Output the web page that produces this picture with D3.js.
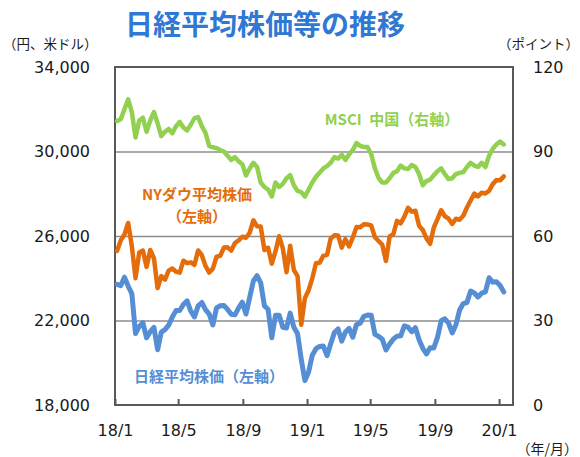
<!DOCTYPE html>
<html>
<head>
<meta charset="utf-8">
<script src="https://cdn.jsdelivr.net/npm/d3@7"></script>
<style>
  body { margin: 0; background: #fff; }
  text { fill: #1a1a1a; }
</style>
</head>
<body>
<svg width="580" height="457"></svg>
<script>
// weekly values (Fridays), Jan 2018 - Jan 2020
var nikkei = [
  23714, 23653, 24050, 23630, 23274, 21383, 21720, 21893, 21182, 21469,
  21676, 20617, 21454, 21568, 21778, 22162, 22468, 22472, 22758, 22930,
  22450, 22171, 22694, 22851, 22516, 22305, 21788, 22597, 22698, 22712,
  22525, 22298, 22270, 22601, 22865, 22307, 23094, 23870, 24120, 23784,
  22694, 22532, 21184, 22243, 22250, 21680, 21646, 22351, 21679, 21374,
  20166, 19155, 19561, 20360, 20666, 20774, 20788, 20333, 20900, 21426,
  21603, 21025, 21451, 21627, 21206, 21808, 21871, 22200, 22259, 22250,
  21345, 21250, 21117, 20601, 20885, 21117, 21259, 21276, 21746, 21686,
  21467, 21658, 21087, 20685, 20418, 20710, 20704, 21200, 21988, 22079,
  21879, 21410, 21799, 22492, 22800, 22851, 23392, 23303, 23113, 23293,
  23354, 24023, 23816, 23837, 23657, 23350
];
var dow = [
  25296, 25803, 26072, 26617, 25521, 24000, 25219, 25310, 24538, 25336,
  24947, 23533, 24103, 23933, 24360, 24463, 24311, 24263, 24831, 24715,
  24753, 24635, 25317, 25090, 24581, 24271, 24456, 25019, 25058, 25451,
  25463, 25313, 25669, 25790, 25965, 25917, 26154, 26744, 26458, 26447,
  25340, 25444, 24688, 25271, 25989, 25413, 24286, 25538, 24389, 24101,
  21800, 23062, 23433, 23996, 24706, 24737, 25064, 25106, 25883, 26031,
  26026, 25450, 25849, 25502, 25929, 26425, 26412, 26559, 26543, 26505,
  25942, 25764, 25586, 24815, 25984, 26090, 26719, 26600, 26922, 27332,
  27154, 27192, 26485, 26287, 25886, 25629, 26403, 26797, 27220, 26935,
  26820, 26573, 26817, 26770, 26958, 27347, 27681, 28005, 27876, 28051,
  28015, 28135, 28455, 28645, 28634, 28823
];
var msci = [
  100.8, 101.5, 105, 108.5, 104, 95, 101, 102, 97, 101,
  104, 100, 95.5, 97, 98, 96.5, 99, 100.5, 98.5, 97.5,
  99.5, 101.8, 102.2, 99, 96.6, 92, 91.5, 91.2, 90.5, 90,
  88.5, 87, 88, 86.5, 85.5, 81.5, 84, 86, 84.5, 79,
  77.4, 76.5, 74, 79, 77.4, 78.5, 80.5, 81.6, 78, 76,
  75.6, 74, 76.5, 79, 81, 82.5, 84, 84.8, 86, 88,
  87.5, 88.8, 87, 89, 90.5, 93, 92, 91.6, 91.6, 89,
  84, 80.6, 79, 79, 80.5, 82.4, 83, 85, 84, 83.8,
  85.2, 84.5, 82, 78, 79.5, 80, 81.6, 83, 84, 82,
  80.2, 80.5, 82, 82.4, 82.7, 84.5, 86, 85, 84.5, 86,
  84.5, 88.5, 91, 92.5, 93.5, 92.5
];
var weeks = d3.timeFriday.range(new Date(2018, 0, 5), new Date(2020, 0, 11));

var leftTicks = [18000, 22000, 26000, 30000, 34000];
var rightTicks = [0, 30, 60, 90, 120];
var monthTicks = ["2018-01", "2018-05", "2018-09", "2019-01", "2019-05", "2019-09", "2020-01"];
var monthLabels = ["18/1", "18/5", "18/9", "19/1", "19/5", "19/9", "20/1"];

var svg = d3.select("svg"),
    margin = {top: 67, right: 67, bottom: 52, left: 115},
    width = +svg.attr("width") - margin.left - margin.right,
    height = +svg.attr("height") - margin.top - margin.bottom,
    g = svg.append("g").attr("transform", "translate(" + margin.left + "," + margin.top + ")");

var jp = "'Noto Sans CJK JP', sans-serif",
    num = "'DejaVu Sans', Verdana, sans-serif";

var x = d3.scaleTime()
    .domain([new Date(2018, 0, 1), new Date(2020, 0, 27, 12)])
    .range([0, width]);
var yL = d3.scaleLinear().domain([18000, 34000]).range([height, 0]);
var yR = d3.scaleLinear().domain([0, 120]).range([height, 0]);

var parseMonth = d3.timeParse("%Y-%m");
var tickDates = monthTicks.map(parseMonth);

// title + unit labels
svg.append("text")
    .attr("x", 265).attr("y", 25).attr("dy", "0.36em")
    .attr("text-anchor", "middle")
    .style("font-family", jp).style("font-weight", "bold").style("font-size", "28px")
    .style("fill", "#2f78d4")
    .text("日経平均株価等の推移");

svg.append("text")
    .attr("x", 3).attr("y", 44).attr("dy", "0.36em")
    .style("font-family", jp).style("font-size", "13.5px")
    .text("（円、米ドル）");

svg.append("text")
    .attr("x", 579).attr("y", 44).attr("dy", "0.36em")
    .attr("text-anchor", "end")
    .style("font-family", jp).style("font-size", "13.5px")
    .text("（ポイント）");

svg.append("text")
    .attr("x", 578).attr("y", 449).attr("dy", "0.36em")
    .attr("text-anchor", "end")
    .style("font-family", jp).style("font-size", "14px")
    .text("（年/月）");

// gridlines
g.append("g")
    .attr("class", "grid")
    .call(d3.axisLeft(yL).tickValues([22000, 26000, 30000]).tickSize(-width).tickFormat(""))
  .call(function(s) {
    s.select(".domain").remove();
    s.selectAll("line").attr("stroke", "#8c8c8c").attr("stroke-width", 1.5);
  });

// frame
g.append("rect")
    .attr("width", width).attr("height", height)
    .attr("fill", "none")
    .attr("stroke", "#595959").attr("stroke-width", 2);

// axes
g.append("g")
    .call(d3.axisLeft(yL).tickValues(leftTicks).tickSize(0).tickPadding(25).tickFormat(d3.format(",")))
  .call(function(s) {
    s.select(".domain").remove();
    s.selectAll("text").style("font-family", num).style("font-size", "16px").attr("fill", "#1a1a1a");
  });

g.append("g")
    .attr("transform", "translate(" + width + ",0)")
    .call(d3.axisRight(yR).tickValues(rightTicks).tickSize(0).tickPadding(20))
  .call(function(s) {
    s.select(".domain").remove();
    s.selectAll("text").style("font-family", num).style("font-size", "16px").attr("fill", "#1a1a1a");
  });

g.append("g")
    .attr("transform", "translate(0," + height + ")")
    .call(d3.axisBottom(x).tickValues(tickDates).tickSize(-6).tickPadding(20)
      .tickFormat(function(d, i) { return monthLabels[i]; }))
  .call(function(s) {
    s.select(".domain").remove();
    s.selectAll("line").attr("stroke", "#595959").attr("stroke-width", 2);
    s.selectAll("text").style("font-family", num).style("font-size", "16px").attr("fill", "#1a1a1a");
  });

// series
var series = [
  {name: "msci", values: msci, scale: yR, color: "#92d050", width: 4.5},
  {name: "dow", values: dow, scale: yL, color: "#e46c0a", width: 4.5},
  {name: "nikkei", values: nikkei, scale: yL, color: "#558ed5", width: 5}
];

series.forEach(function(s) {
  var line = d3.line()
      .x(function(d, i) { return x(weeks[i]); })
      .y(function(d) { return s.scale(d); })
      .curve(d3.curveLinear);
  g.append("path")
      .datum(s.values)
      .attr("fill", "none")
      .attr("stroke", s.color)
      .attr("stroke-width", s.width)
      .attr("stroke-linejoin", "round")
      .attr("stroke-linecap", "round")
      .attr("d", line);
});

// series labels
function label(txt, cx, cy, color) {
  svg.append("text")
      .attr("x", cx).attr("y", cy).attr("dy", "0.36em")
      .attr("text-anchor", "middle")
      .style("font-family", jp).style("font-weight", "bold").style("font-size", "15px")
      .style("fill", color)
      .text(txt);
}
label("MSCI\u2002中国（右軸）", 392, 120, "#92d050");
label("NYダウ平均株価", 197, 195, "#e46c0a");
label("（左軸）", 197, 217, "#e46c0a");
label("日経平均株価（左軸）", 209, 377, "#558ed5");
</script>
</body>
</html>
